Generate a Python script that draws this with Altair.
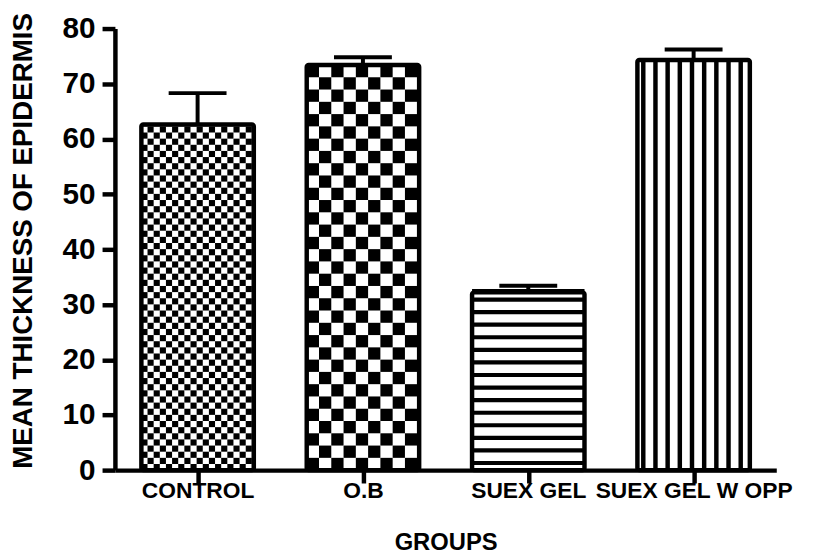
import json
import altair as alt
import numpy as np
import pandas as pd

# ---- data ----
categories = ["CONTROL", "O.B", "SUEX GEL", "SUEX GEL W OPP"]
means = [62.6, 73.4, 32.2, 74.3]
errors = [5.7, 1.4, 1.2, 1.9]
patterns = ["checker_fine", "checker_coarse", "hstripes", "vstripes"]
y_ticks = [0, 10, 20, 30, 40, 50, 60, 70, 80]

# ---- layout ----
W, H = 668, 446
X_DOM = [0, len(categories)]
Y_DOM = [0, 80]
PXX = W / (X_DOM[1] - X_DOM[0])
PXY = H / (Y_DOM[1] - Y_DOM[0])
HALF = 0.34          # half bar width (x units)
CAP = 0.175          # half cap width
FONT = "Liberation Sans"

centers = [i + 0.5 for i in range(len(categories))]
bars = pd.DataFrame({
    "cat": categories,
    "center": centers,
    "x0": [c - HALF for c in centers],
    "x1": [c + HALF for c in centers],
    "mean": means,
    "top": [m + e for m, e in zip(means, errors)],
    "cap0": [c - CAP for c in centers],
    "cap1": [c + CAP for c in centers],
    "zero": [0] * len(categories),
})


def checker(x0, x1, y1, cell_px):
    cw, ch = cell_px / PXX, cell_px / PXY
    out = []
    nx, ny = int(np.ceil((x1 - x0) / cw)), int(np.ceil(y1 / ch))
    for i in range(nx):
        for j in range(ny):
            if (i + j) % 2 == 0:
                out.append((x0 + i * cw, min(x0 + (i + 1) * cw, x1),
                            j * ch, min((j + 1) * ch, y1)))
    return out


def hstripes(x0, x1, y1, period_px, thick_px):
    p, t = period_px / PXY, thick_px / PXY
    out = []
    k = 0
    while k * p < y1:
        out.append((x0, x1, k * p + 0.4 * p, min(k * p + 0.4 * p + t, y1)))
        k += 1
    return out


def vstripes(x0, x1, y1, period_px, thick_px):
    p, t = period_px / PXX, thick_px / PXX
    out = []
    k = 0
    while x0 + k * p < x1:
        a = x0 + k * p + 0.3 * p
        if a < x1:
            out.append((a, min(a + t, x1), 0, y1))
        k += 1
    return out


cells = []
for row, pat in zip(bars.itertuples(), patterns):
    if pat == "checker_fine":
        cells += checker(row.x0, row.x1, row.mean, 6.2)
    elif pat == "checker_coarse":
        cells += checker(row.x0, row.x1, row.mean, 12.4)
    elif pat == "hstripes":
        cells += hstripes(row.x0, row.x1, row.mean, 12.7, 4.2)
    else:
        cells += vstripes(row.x0, row.x1, row.mean, 12.3, 4.5)
cells_df = pd.DataFrame(cells, columns=["a", "b", "c", "d"])

xscale = alt.Scale(domain=X_DOM, nice=False, zero=False)
yscale = alt.Scale(domain=Y_DOM, nice=False)

label_expr = json.dumps(categories) + "[floor(datum.value)]"

x_axis = alt.Axis(
    values=centers, labelExpr=label_expr, title="GROUPS", grid=False,
    domainColor="black", domainWidth=4.5, tickColor="black", tickWidth=4.5,
    tickSize=13, labelFont=FONT, labelFontSize=23, labelFontWeight="bold",
    labelColor="black", labelPadding=-3, labelOverlap=False, labelFlush=False,
    labelLimit=0,
    titleFont=FONT, titleFontSize=24, titleFontWeight="bold", titleColor="black",
    titleX=W / 2, titleY=73, titleBaseline="middle", titleAlign="center",
)
y_axis = alt.Axis(
    values=y_ticks, title="MEAN THICKNESS OF EPIDERMIS", grid=False,
    domainColor="black", domainWidth=4.5, tickColor="black", tickWidth=4.5,
    tickSize=13, labelFont=FONT, labelFontSize=30, labelFontWeight="bold",
    labelColor="black", labelPadding=7,
    titleFont=FONT, titleFontSize=28, titleFontWeight="bold", titleColor="black",
    titleX=-92, titleY=214, titleAngle=270, titleBaseline="middle", titleAlign="center",
)

pattern_layer = alt.Chart(cells_df).mark_rect(color="black").encode(
    x=alt.X("a:Q", scale=xscale, axis=x_axis),
    x2="b:Q",
    y=alt.Y("c:Q", scale=yscale, axis=y_axis),
    y2="d:Q",
)

outline = alt.Chart(bars).mark_rect(
    fillOpacity=0, stroke="black", strokeWidth=4.5, cornerRadius=2
).encode(
    x=alt.X("x0:Q"),
    x2="x1:Q",
    y=alt.Y("mean:Q"),
    y2="zero:Q",
)

err_v = alt.Chart(bars).mark_rule(color="black", strokeWidth=4).encode(
    x="center:Q", y="mean:Q", y2="top:Q"
)
err_cap = alt.Chart(bars).mark_rule(color="black", strokeWidth=4).encode(
    x="cap0:Q", x2="cap1:Q", y="top:Q"
)

chart = alt.layer(pattern_layer, outline, err_v, err_cap).properties(
    width=W, height=H,
    autosize=alt.AutoSizeParams(type="none"),
    padding={"left": 108, "top": 18, "right": 29, "bottom": 85},
    background="white",
).configure_view(stroke=None)

chart.save("out.html", embed_options={"renderer": "svg", "actions": False})
